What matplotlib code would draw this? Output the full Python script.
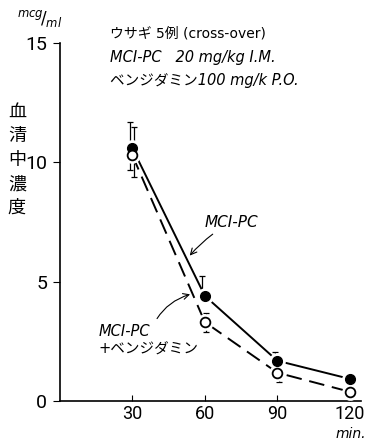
import matplotlib.pyplot as plt

plt.rcParams['font.family'] = ['DejaVu Sans', 'Noto Sans CJK JP']

# data
minutes = [30, 60, 90, 120]
mci_pc = [10.6, 4.4, 1.68, 0.92]
mci_pc_err_lo = [0.9, 0.0, 0.0, 0.0]
mci_pc_err_hi = [1.1, 0.85, 0.38, 0.0]
mci_benz = [10.3, 3.3, 1.18, 0.38]
mci_benz_err_lo = [0.9, 0.4, 0.38, 0.0]
mci_benz_err_hi = [1.2, 0.4, 0.0, 0.0]

y_ticks = [0, 5, 10, 15]
x_ticks = [30, 60, 90, 120]

fig = plt.figure(figsize=(3.67, 4.40), dpi=100)
ax = fig.add_axes([0.163, 0.089, 0.82, 0.813])

jp = ['Noto Sans CJK JP']
mix = ['DejaVu Sans', 'Noto Sans CJK JP']

# lines (drawn first, markers cover the ends with a white ring)
ax.plot(minutes, mci_pc, color='black', lw=1.4, zorder=2)
ax.plot(minutes, mci_benz, color='black', lw=1.4, dashes=(8, 4), zorder=2)

ax.errorbar([m - 1 for m in minutes], mci_pc, yerr=[mci_pc_err_lo, mci_pc_err_hi],
            fmt='none', ecolor='black', elinewidth=0.9, capsize=2.5, capthick=0.9, zorder=3)
ax.errorbar([m + 0.5 for m in minutes], mci_benz, yerr=[mci_benz_err_lo, mci_benz_err_hi],
            fmt='none', ecolor='black', elinewidth=0.9, capsize=2.5, capthick=0.9, zorder=3)

ax.plot(minutes, mci_pc, 'o', ms=11, color='white', zorder=4)
ax.plot(minutes, mci_benz, 'o', ms=11, color='white', zorder=4)
ax.plot(minutes, mci_pc, 'o', ms=7, mfc='black', mec='black', zorder=5)
ax.plot(minutes, mci_benz, 'o', ms=7, mfc='white', mec='black', mew=1.3, zorder=5)

ax.set_xlim(0, 124.5)
ax.set_ylim(0, 15)
ax.set_xticks(x_ticks)
ax.set_yticks(y_ticks)
ax.tick_params(axis='x', direction='in', length=4, labelsize=13, pad=3)
ax.tick_params(axis='y', direction='out', length=5, labelsize=14, pad=4)
for lab in ax.get_xticklabels() + ax.get_yticklabels():
    lab.set_family('Roboto')
    lab.set_color('black')
for s in ['top', 'right']:
    ax.spines[s].set_visible(False)
ax.spines['left'].set_linewidth(1.2)
ax.spines['bottom'].set_linewidth(1.2)

# units
fig.text(0.045, 0.945, r'$^{mcg}\!/_{ml}$', fontsize=12, style='italic')
fig.text(0.915, 0.004, 'min.', fontsize=10, style='italic')

# vertical y label
for i, ch in enumerate('血清中濃度'):
    fig.text(0.046, 0.745 - i * 0.0545, ch, fontsize=13, family=jp, ha='center', va='center')

# header notes
fig.text(0.30, 0.915, 'ウサギ 5例 (cross-over)', fontsize=10, family=mix)
fig.text(0.30, 0.858, 'MCI-PC   20 mg/kg I.M.', fontsize=10.5, style='italic', family=mix)
fig.text(0.30, 0.806, 'ベンジダミン100 mg/k P.O.', fontsize=10.5, style='italic', family=mix)

# curve labels with arrows
ax.annotate('MCI-PC', xy=(53, 6.0), xytext=(60, 7.3), fontsize=11, style='italic',
            arrowprops=dict(arrowstyle='->', color='black', lw=0.8,
                            connectionstyle='arc3,rad=0.1'))
ax.annotate('MCI-PC\n+ベンジダミン', xy=(55, 4.5), xytext=(16, 2.0), fontsize=10.5,
            style='italic', family=mix, linespacing=1.2,
            arrowprops=dict(arrowstyle='->', color='black', lw=0.8,
                            connectionstyle='arc3,rad=-0.3'))

fig.savefig('out.png', dpi=100)
